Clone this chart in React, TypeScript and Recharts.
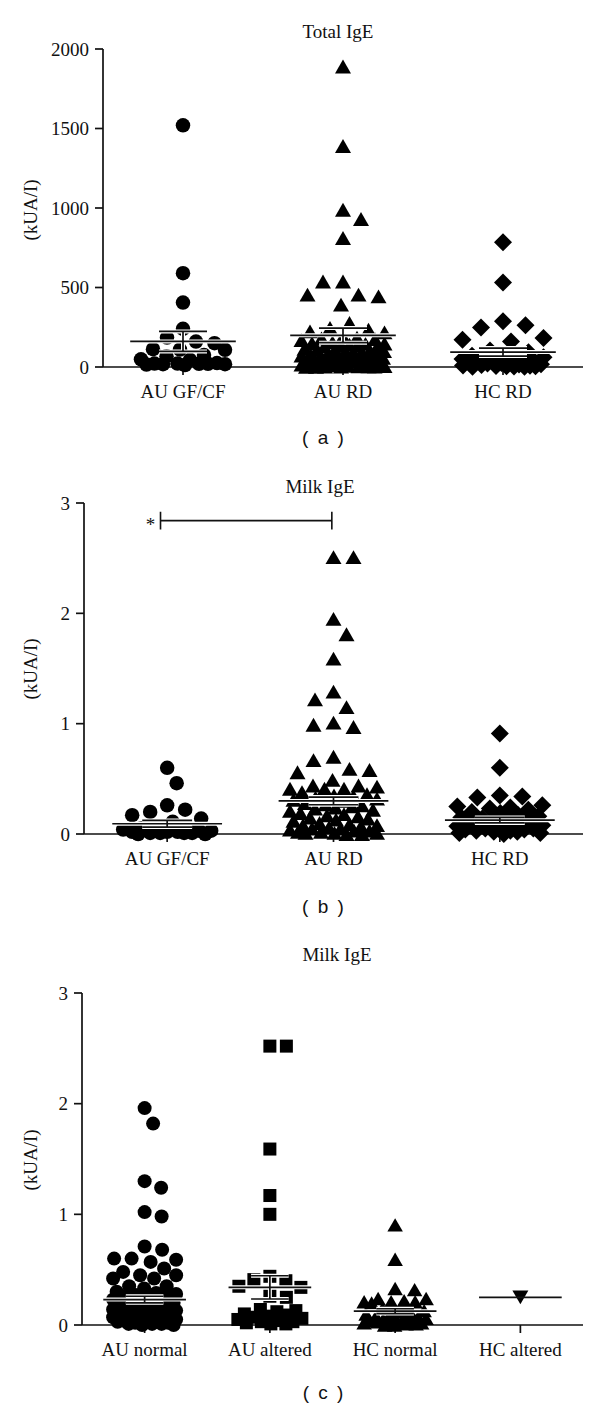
import React from 'react';
import { ScatterChart, Scatter, XAxis, YAxis } from 'recharts';

const FONT = '"Liberation Serif", "Times New Roman", Times, serif';
const SANS = '"Liberation Sans", Arial, sans-serif';
const INK = '#111';
const FS = 19;

// ---------- Panel (a): Total IgE ----------
const totalCategories = ['AU GF/CF', 'AU RD', 'HC RD'];
const totalTicks = [0, 500, 1000, 1500, 2000];
const totalAuGfCf = [1520, 590, 405, 240, 185, 160, 150, 112, 110, 108, 75, 68, 48, 45, 25, 22, 22, 20, 20, 18, 18, 15, 12];
const totalAuRd = [
  1890, 1390, 989, 931, 811, 538, 538, 455, 444, 455, 392, 277, 245, 224, 218, 235,
  190, 185, 180, 175, 170,
  155, 150, 148, 145, 140, 138, 135, 130, 125,
  115, 112, 110, 105, 100, 98, 95, 90, 85,
  78, 75, 72, 70, 68, 65, 62, 60, 58, 55,
  45, 42, 40, 38, 35, 32, 30, 28, 25, 22,
  15, 12, 10, 8, 6, 5, 4, 3, 2, 2, 1, 1,
];
const totalHcRd = [784, 532, 287, 262, 249, 182, 172, 161, 104, 92, 70, 65, 62, 58, 55, 50, 42, 38, 35, 32, 30, 28, 25, 22, 18, 15, 12, 10, 8, 6, 5, 4, 3, 2, 1];
const totalMeans = [161, 199, 94];
const totalSems = [63, 46, 25];

// ---------- Panel (b): Milk IgE by diet ----------
const milkCategories = ['AU GF/CF', 'AU RD', 'HC RD'];
const milkTicks = [0, 1, 2, 3];
const milkAuGfCf = [0.6, 0.46, 0.26, 0.22, 0.2, 0.17, 0.14, 0.11, 0.07, 0.06, 0.05, 0.04, 0.03, 0.03, 0.02, 0.02, 0.02, 0.01, 0.01, 0.01, 0.01, 0.0, 0.0];
const milkAuRd = [
  2.51, 2.51, 1.95, 1.81, 1.59, 1.29, 1.22, 1.15, 1.01, 0.97, 0.99, 0.7, 0.67, 0.58, 0.59, 0.56, 0.49, 0.44, 0.44, 0.43, 0.41, 0.41, 0.41,
  0.38, 0.36, 0.35, 0.34, 0.33, 0.32, 0.31, 0.3,
  0.28, 0.27, 0.26, 0.25, 0.24, 0.23, 0.22, 0.21,
  0.19, 0.18, 0.17, 0.16, 0.15, 0.14, 0.13, 0.12,
  0.1, 0.09, 0.08, 0.08, 0.07, 0.06, 0.05, 0.05,
  0.04, 0.03, 0.03, 0.02, 0.02, 0.01, 0.01, 0.01, 0.0, 0.0,
];
const milkHcRd = [0.91, 0.6, 0.35, 0.34, 0.33, 0.26, 0.25, 0.24, 0.23, 0.22, 0.2, 0.19, 0.17, 0.16, 0.15, 0.14, 0.13, 0.12, 0.11, 0.1, 0.09, 0.08, 0.07, 0.06, 0.05, 0.05, 0.04, 0.04, 0.03, 0.03, 0.02, 0.02, 0.01, 0.01, 0.0];
const milkMeans = [0.093, 0.3, 0.125];
const milkSems = [0.03, 0.035, 0.025];
const milkBracketEnds = [0.46, 1.49];
const milkBracketLevel = 2.84;
const milkStarAt = 0.4;

// ---------- Panel (c): Milk IgE by intestinal permeability ----------
const permCategories = ['AU normal', 'AU altered', 'HC normal', 'HC altered'];
const permTicks = [0, 1, 2, 3];
const permAuNormal = [
  1.96, 1.82, 1.3, 1.24, 1.02, 0.98, 0.71, 0.68, 0.6, 0.6, 0.59, 0.57, 0.51, 0.48, 0.45, 0.45, 0.42, 0.42, 0.35, 0.35, 0.33,
  0.3, 0.29, 0.28, 0.27, 0.26, 0.25, 0.24, 0.23,
  0.21, 0.2, 0.19, 0.18, 0.17, 0.16, 0.15, 0.14,
  0.13, 0.12, 0.11, 0.1, 0.1, 0.09, 0.08, 0.08,
  0.07, 0.06, 0.06, 0.05, 0.05, 0.04, 0.04, 0.03,
  0.03, 0.02, 0.02, 0.01, 0.01, 0.01, 0.0, 0.0,
];
const permAuAltered = [2.52, 2.52, 1.59, 1.17, 1.0, 0.44, 0.41, 0.4, 0.35, 0.34, 0.26, 0.25, 0.14, 0.13, 0.12, 0.1, 0.09, 0.08, 0.07, 0.06, 0.05, 0.04, 0.03, 0.03, 0.02, 0.01, 0.01];
const permHcNormal = [0.905, 0.594, 0.33, 0.32, 0.24, 0.24, 0.22, 0.21, 0.21, 0.21, 0.2, 0.15, 0.13, 0.12, 0.11, 0.1, 0.09, 0.08, 0.07, 0.06, 0.06, 0.05, 0.05, 0.04, 0.04, 0.03, 0.03, 0.02, 0.02, 0.02, 0.01, 0.01, 0.0, 0.0];
const permHcAltered = [0.25];
const permMeans = [0.23, 0.34, 0.125, 0.25];
const permSems = [0.03, 0.105, 0.022, 0];

// ---------- helpers ----------
type Marker = 'circle' | 'triangle' | 'diamond' | 'square' | 'triangleDown';

const markerShape = (kind: Marker, s: number) => (props: any) => {
  const { cx, cy } = props;
  if (cx == null || cy == null) return <g />;
  const r = s / 2;
  if (kind === 'circle') return <circle cx={cx} cy={cy} r={r} fill="#000" />;
  if (kind === 'square') return <rect x={cx - r} y={cy - r} width={s} height={s} fill="#000" />;
  if (kind === 'diamond') return <polygon points={`${cx},${cy - r} ${cx + r},${cy} ${cx},${cy + r} ${cx - r},${cy}`} fill="#000" />;
  const h = s * 0.866;
  if (kind === 'triangle') return <polygon points={`${cx},${cy - h / 2} ${cx + r},${cy + h / 2} ${cx - r},${cy + h / 2}`} fill="#000" />;
  return <polygon points={`${cx},${cy + h / 2} ${cx + r},${cy - h / 2} ${cx - r},${cy - h / 2}`} fill="#000" />;
};

const emptyShape = () => <g />;

// beeswarm layout: spreads points horizontally so markers do not pile up
function swarm(values: number[], cat: number, pxPerUnit: number, bandPx: number, marker: number) {
  const collide = marker * 1.25;
  const maxHalf = 0.3 * bandPx - marker * 0.4;
  const order = values.map((_, i) => i).sort((a, b) => values[b] - values[a]);
  const placed: { x: number; y: number }[] = [];
  const dxs: number[] = new Array(values.length).fill(0);
  order.forEach((i, n) => {
    const py = values[i] * pxPerUnit;
    let chosen: number | null = null;
    let best = 0;
    let bestD = -1;
    const first = n % 2 === 0 ? -1 : 1;
    for (let k = 0; k <= maxHalf && chosen === null; k += 0.5) {
      const signs = k === 0 ? [1] : [first, -first];
      for (const s of signs) {
        const dx = s * k;
        let minD = Infinity;
        for (const p of placed) {
          const d = Math.hypot(p.x - dx, p.y - py);
          if (d < minD) minD = d;
        }
        if (minD >= collide) {
          chosen = dx;
          break;
        }
        if (minD > bestD) {
          bestD = minD;
          best = dx;
        }
      }
    }
    const dx = chosen === null ? best : chosen;
    placed.push({ x: dx, y: py });
    dxs[i] = dx;
  });
  return values.map((v, i) => ({ x: cat + 0.5 + dxs[i] / bandPx, y: v }));
}

function summaryPath(cat: number, mean: number, sem: number) {
  const c = cat + 0.5;
  const half = 0.33;
  const cap = 0.15;
  const pts = [
    { x: c - half, y: mean },
    { x: c + half, y: mean },
  ];
  if (sem > 0) {
    pts.push(
      { x: c, y: mean },
      { x: c, y: mean + sem },
      { x: c - cap, y: mean + sem },
      { x: c + cap, y: mean + sem },
      { x: c, y: mean + sem },
      { x: c, y: mean - sem },
      { x: c - cap, y: mean - sem },
      { x: c + cap, y: mean - sem },
    );
  }
  return pts;
}

interface Bracket {
  ends: number[];
  level: number;
  starAt: number;
  cap: number;
}

interface PanelSpec {
  top: number;
  marginTop: number;
  plotHeight: number;
  yAxisWidth: number;
  categories: string[];
  groups: number[][];
  markers: Marker[];
  sizes: number[];
  means: number[];
  sems: number[];
  yMax: number;
  yTicks: number[];
  title: string;
  titleX: number;
  titleY: number;
  letter: string;
  letterY: number;
  yLabelY: number;
  bracket?: Bracket;
}

const CHART_W = 600;
const RIGHT = 17;
const XAXIS_H = 40;

function Panel({ spec }: { spec: PanelSpec }) {
  const n = spec.categories.length;
  const bandPx = (CHART_W - RIGHT - spec.yAxisWidth) / n;
  const pxPerUnit = spec.plotHeight / spec.yMax;
  const height = spec.marginTop + spec.plotHeight + XAXIS_H;
  const xTicks = spec.categories.map((_, i) => i + 0.5);
  const axisStyle = { stroke: INK, strokeWidth: 1.7 };
  const tickStyle = { fill: INK, fontSize: FS, fontFamily: FONT };
  const b = spec.bracket;
  const bracketPts = b
    ? [
        { x: b.ends[0], y: b.level - b.cap },
        { x: b.ends[0], y: b.level + b.cap },
        { x: b.ends[0], y: b.level },
        { x: b.ends[1], y: b.level },
        { x: b.ends[1], y: b.level + b.cap },
        { x: b.ends[1], y: b.level - b.cap },
      ]
    : [];
  const starShape = (props: any) => (
    <text x={props.cx} y={props.cy + 10} textAnchor="middle" fontSize={FS} fontFamily={FONT} fill={INK}>
      *
    </text>
  );
  return (
    <div style={{ position: 'absolute', left: 0, top: spec.top, width: CHART_W, height }}>
      <ScatterChart width={CHART_W} height={height} margin={{ top: spec.marginTop, right: RIGHT, bottom: 0, left: 0 }}>
        <XAxis
          type="number"
          dataKey="x"
          domain={[0, n]}
          ticks={xTicks}
          interval={0}
          allowDecimals
          tickFormatter={(v: number) => spec.categories[Math.round(v - 0.5)] ?? ''}
          tickSize={8}
          tickMargin={10}
          height={XAXIS_H}
          axisLine={axisStyle}
          tickLine={axisStyle}
          tick={tickStyle}
        />
        <YAxis
          type="number"
          dataKey="y"
          domain={[0, spec.yMax]}
          ticks={spec.yTicks}
          interval={0}
          width={spec.yAxisWidth}
          tickSize={8}
          tickMargin={6}
          axisLine={axisStyle}
          tickLine={axisStyle}
          tick={tickStyle}
        />
        {spec.groups.map((g, i) => (
          <Scatter
            key={'g' + i}
            data={swarm(g, i, pxPerUnit, bandPx, spec.sizes[i])}
            shape={markerShape(spec.markers[i], spec.sizes[i])}
            isAnimationActive={false}
            legendType="none"
          />
        ))}
        {spec.means.map((m, i) =>
          spec.sems[i] > 0 ? (
            <Scatter
              key={'h' + i}
              data={summaryPath(i, m, spec.sems[i])}
              line={{ stroke: '#fff', strokeWidth: 4 }}
              lineType="joint"
              shape={emptyShape}
              isAnimationActive={false}
              legendType="none"
            />
          ) : null,
        )}
        {spec.means.map((m, i) => (
          <Scatter
            key={'m' + i}
            data={summaryPath(i, m, spec.sems[i])}
            line={{ stroke: INK, strokeWidth: 1.7 }}
            lineType="joint"
            shape={emptyShape}
            isAnimationActive={false}
            legendType="none"
          />
        ))}
        {b && (
          <Scatter
            data={bracketPts}
            line={{ stroke: INK, strokeWidth: 1.6 }}
            lineType="joint"
            shape={emptyShape}
            isAnimationActive={false}
            legendType="none"
          />
        )}
        {b && (
          <Scatter
            data={[{ x: b.starAt, y: b.level }]}
            shape={starShape}
            isAnimationActive={false}
            legendType="none"
          />
        )}
      </ScatterChart>
      <div
        style={{
          position: 'absolute',
          left: spec.titleX - 100,
          top: spec.titleY - spec.top - 11,
          width: 200,
          textAlign: 'center',
          fontFamily: FONT,
          fontSize: FS,
          lineHeight: '22px',
          color: INK,
        }}
      >
        {spec.title}
      </div>
      <div
        style={{
          position: 'absolute',
          left: 31 - 60,
          top: spec.yLabelY - spec.top - 11,
          width: 120,
          textAlign: 'center',
          fontFamily: FONT,
          fontSize: FS,
          lineHeight: '22px',
          color: INK,
          transform: 'rotate(-90deg)',
        }}
      >
        (kUA/I)
      </div>
    </div>
  );
}

const panels: PanelSpec[] = [
  {
    top: 0,
    marginTop: 49,
    plotHeight: 318,
    yAxisWidth: 103,
    categories: totalCategories,
    groups: [totalAuGfCf, totalAuRd, totalHcRd],
    markers: ['circle', 'triangle', 'diamond'],
    sizes: [14.5, 16, 18],
    means: totalMeans,
    sems: totalSems,
    yMax: 2000,
    yTicks: totalTicks,
    title: 'Total IgE',
    titleX: 338,
    titleY: 32,
    letter: '( a )',
    letterY: 438,
    yLabelY: 210,
  },
  {
    top: 460,
    marginTop: 43,
    plotHeight: 331,
    yAxisWidth: 84,
    categories: milkCategories,
    groups: [milkAuGfCf, milkAuRd, milkHcRd],
    markers: ['circle', 'triangle', 'diamond'],
    sizes: [14.5, 16, 18],
    means: milkMeans,
    sems: milkSems,
    yMax: 3,
    yTicks: milkTicks,
    title: 'Milk IgE',
    titleX: 320,
    titleY: 487,
    letter: '( b )',
    letterY: 907,
    yLabelY: 669,
    bracket: { ends: milkBracketEnds, level: milkBracketLevel, starAt: milkStarAt, cap: 0.08 },
  },
  {
    top: 920,
    marginTop: 73,
    plotHeight: 332,
    yAxisWidth: 82,
    categories: permCategories,
    groups: [permAuNormal, permAuAltered, permHcNormal, permHcAltered],
    markers: ['circle', 'square', 'triangle', 'triangleDown'],
    sizes: [14, 13, 15.5, 16],
    means: permMeans,
    sems: permSems,
    yMax: 3,
    yTicks: permTicks,
    title: 'Milk IgE',
    titleX: 337,
    titleY: 955,
    letter: '( c )',
    letterY: 1393,
    yLabelY: 1160,
  },
];

export default function App() {
  return (
    <div style={{ position: 'absolute', left: 0, top: 0, width: 600, height: 1414, background: '#fff', overflow: 'hidden' }}>
      {panels.map((p, i) => (
        <React.Fragment key={i}>
          <Panel spec={p} />
          <div
            style={{
              position: 'absolute',
              left: 323 - 60,
              top: p.letterY - 12,
              width: 120,
              textAlign: 'center',
              fontFamily: SANS,
              fontSize: 19,
              lineHeight: '24px',
              color: INK,
              wordSpacing: 4,
            }}
          >
            {p.letter}
          </div>
        </React.Fragment>
      ))}
    </div>
  );
}
